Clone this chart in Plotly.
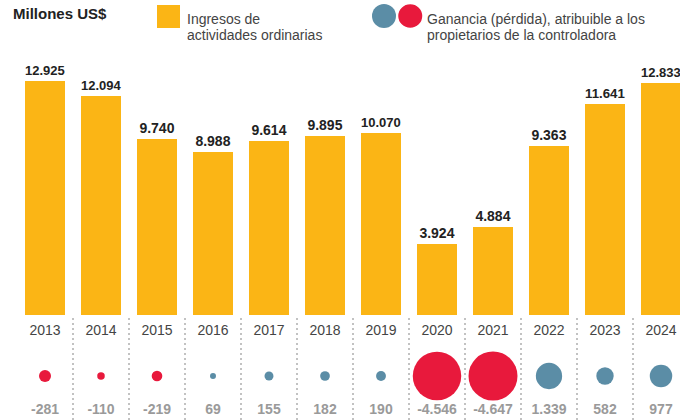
import plotly.graph_objects as go

years = ["2013", "2014", "2015", "2016", "2017", "2018", "2019", "2020", "2021", "2022", "2023", "2024"]
ingresos = [12925, 12094, 9740, 8988, 9614, 9895, 10070, 3924, 4884, 9363, 11641, 12833]
ganancia = [-281, -110, -219, 69, 155, 182, 190, -4546, -4647, 1339, 582, 977]

YELLOW = "#FBB515"
BLUE = "#5B8DA6"
RED = "#E8193C"
NARROW = "Liberation Sans Narrow, Liberation Sans, Arial, sans-serif"
SANS = "Liberation Sans, Arial, sans-serif"

def fmt(v):
    return f"{v:,}".replace(",", ".")

xs = list(range(len(years)))
W, H = 680, 420

fig = go.Figure()

# dotted separators between columns (lower panel)
sep_x, sep_y = [], []
for i in range(len(years) - 1):
    sep_x += [i + 0.5, i + 0.5, None]
    sep_y += [0, 105, None]
fig.add_trace(go.Scatter(
    x=sep_x, y=sep_y, mode="lines", line=dict(color="#9a9a9a", width=1.2, dash="2px,3px"),
    xaxis="x", yaxis="y2", hoverinfo="skip", connectgaps=False, cliponaxis=False,
))

fig.add_trace(go.Bar(
    x=xs, y=ingresos, width=0.714, marker=dict(color=YELLOW, line=dict(width=0)),
    text=[fmt(v) for v in ingresos], textposition="outside", cliponaxis=False,
    textfont=dict(family=SANS, size=14, color="#222222", weight="bold"),
    hoverinfo="skip", xaxis="x", yaxis="y",
))

# year labels
fig.add_trace(go.Scatter(
    x=xs, y=[89] * len(xs), mode="text", text=years,
    textfont=dict(family=SANS, size=14, color="#444444"),
    xaxis="x", yaxis="y2", cliponaxis=False, hoverinfo="skip",
))

# bubbles
absg = [abs(v) for v in ganancia]
fig.add_trace(go.Scatter(
    x=xs, y=[44] * len(xs), mode="markers",
    marker=dict(size=absg, sizemode="area", sizeref=2 * max(absg) / (49 ** 2),
                color=[RED if v < 0 else BLUE for v in ganancia], line=dict(width=0), opacity=1),
    xaxis="x", yaxis="y2", cliponaxis=False, hoverinfo="skip",
))

# value labels
fig.add_trace(go.Scatter(
    x=xs, y=[10] * len(xs), mode="text", text=[fmt(v) for v in ganancia],
    textfont=dict(family=SANS, size=14, color="#9a9a9a", weight="bold"),
    xaxis="x", yaxis="y2", cliponaxis=False, hoverinfo="skip",
))

def px(x):
    return x / W

def py(y):
    return 1 - y / H

shapes = []
# legend shapes
shapes.append(dict(type="rect", xref="paper", yref="paper", x0=px(157), x1=px(180),
                   y0=py(28), y1=py(5), fillcolor=YELLOW, line=dict(width=0)))
shapes.append(dict(type="circle", xref="paper", yref="paper", x0=px(372), x1=px(396),
                   y0=py(28), y1=py(4), fillcolor=BLUE, line=dict(width=0)))
shapes.append(dict(type="circle", xref="paper", yref="paper", x0=px(397.5), x1=px(423),
                   y0=py(28.5), y1=py(3.5), fillcolor=RED, line=dict(color="white", width=1.5)))

annotations = [
    dict(text="<b>Millones US$</b>", x=px(11), y=py(13), xref="paper", yref="paper",
         xanchor="left", yanchor="middle", showarrow=False,
         font=dict(family=SANS, size=15, color="#222222")),
]
leg_lines = [
    ("Ingresos de", 185, 19),
    ("actividades ordinarias", 185, 35),
    ("Ganancia (pérdida), atribuible a los", 425, 19),
    ("propietarios de la controladora", 425, 35),
]
for t, x, y in leg_lines:
    annotations.append(dict(text=t, x=px(x), y=py(y), xref="paper", yref="paper",
                            xanchor="left", yanchor="middle", showarrow=False,
                            font=dict(family=NARROW, size=14, color="#444444")))

fig.update_layout(
    width=W, height=H, margin=dict(l=0, r=0, t=0, b=0),
    paper_bgcolor="white", plot_bgcolor="rgba(0,0,0,0)", showlegend=False,
    xaxis=dict(range=[-45 / 56, 635 / 56], visible=False, fixedrange=True),
    yaxis=dict(domain=[105 / H, 1], range=[0, 17400], visible=False),
    yaxis2=dict(domain=[0, 105 / H], range=[0, 105], visible=False),
    shapes=shapes, annotations=annotations, bargap=0,
)

fig.write_html("out.html", config={"displayModeBar": False, "staticPlot": True},
               post_script="document.body.style.margin='0';document.body.style.overflow='hidden';")
